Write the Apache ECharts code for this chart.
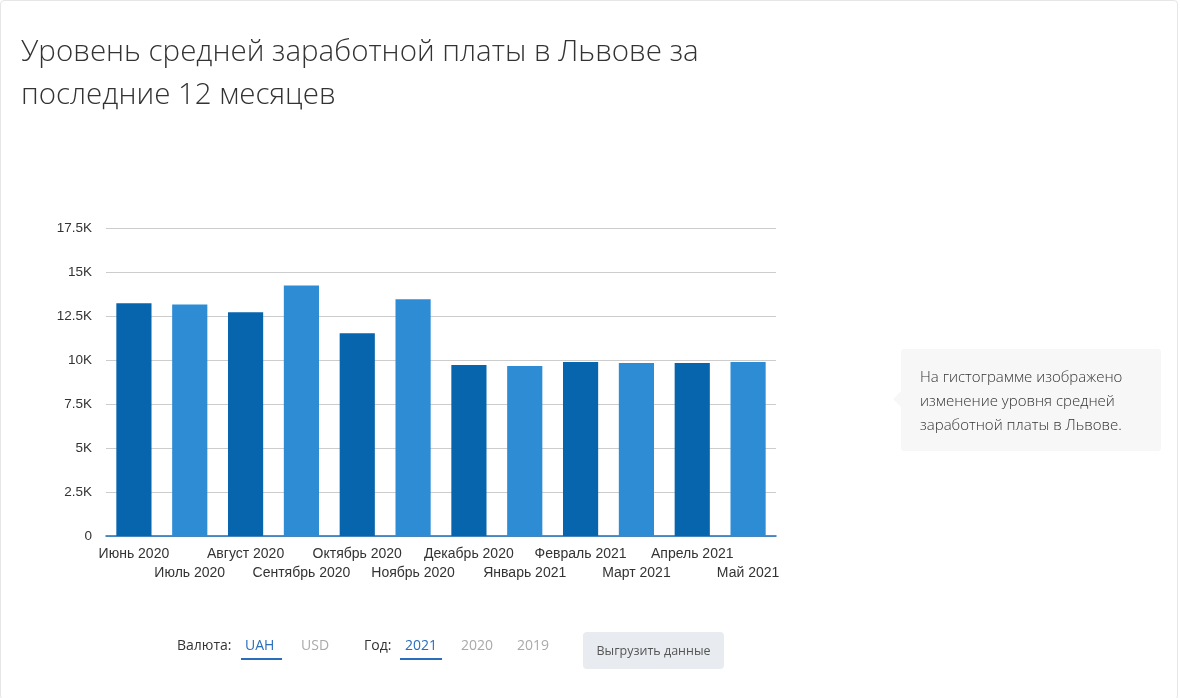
<!DOCTYPE html>
<html>
<head>
<meta charset="utf-8">
<script src="https://cdn.jsdelivr.net/npm/echarts@6/dist/echarts.min.js"></script>
<style>
html,body{margin:0;padding:0;background:#fff;}
#frame{position:absolute;left:0;top:0;width:1178px;height:700px;border:1px solid #e6e6e6;border-radius:4px;box-sizing:border-box;}
#chart{position:absolute;left:0;top:0;width:1180px;height:698px;}
</style>
</head>
<body>
<div id="frame"></div>
<div id="chart"></div>
<script>
const titleText = 'Уровень средней заработной платы в Львове за\nпоследние 12 месяцев';
const categories = ['Июнь 2020','Июль 2020','Август 2020','Сентябрь 2020','Октябрь 2020','Ноябрь 2020','Декабрь 2020','Январь 2021','Февраль 2021','Март 2021','Апрель 2021','Май 2021'];
const salaryUAH = [13220, 13160, 12710, 14240, 11520, 13450, 9720, 9660, 9890, 9830, 9830, 9890];
const yTicks = [0, 2500, 5000, 7500, 10000, 12500, 15000, 17500];
const noteLines = ['На гистограмме изображено', 'изменение уровня средней', 'заработной платы в Львове.'];
const currencyOptions = ['UAH', 'USD'];
const yearOptions = ['2021', '2020', '2019'];

const darkBlue = '#0765ad';
const lightBlue = '#2e8cd5';
const uiFont = '"Open Sans", "Noto Sans", sans-serif';

const chart = echarts.init(document.getElementById('chart'));

const graphics = [
  // note box
  { type: 'rect', shape: { x: 901, y: 349, width: 260, height: 102, r: 3 }, style: { fill: '#f7f7f7' } },
  { type: 'polygon', shape: { points: [[901, 391], [893, 399], [901, 407]] }, style: { fill: '#f7f7f7' } },
  { type: 'text', left: 920, top: 366, style: { text: noteLines.join('\n'), fill: '#333', font: '300 15px ' + uiFont, lineHeight: 24 } },
  // controls
  { type: 'text', left: 177, top: 639, style: { text: 'Валюта:', fill: '#333', font: '14px ' + uiFont } },
  { type: 'text', left: 245, top: 639, style: { text: currencyOptions[0], fill: '#2a6ebb', font: '14px ' + uiFont } },
  { type: 'rect', shape: { x: 241, y: 658, width: 41, height: 2 }, style: { fill: '#2a6ebb' } },
  { type: 'text', left: 301, top: 639, style: { text: currencyOptions[1], fill: '#aaa', font: '14px ' + uiFont } },
  { type: 'text', left: 364, top: 639, style: { text: 'Год:', fill: '#333', font: '14px ' + uiFont } },
  { type: 'text', left: 405, top: 639, style: { text: yearOptions[0], fill: '#2a6ebb', font: '14px ' + uiFont } },
  { type: 'rect', shape: { x: 400, y: 658, width: 42, height: 2 }, style: { fill: '#2a6ebb' } },
  { type: 'text', left: 461, top: 639, style: { text: yearOptions[1], fill: '#aaa', font: '14px ' + uiFont } },
  { type: 'text', left: 517, top: 639, style: { text: yearOptions[2], fill: '#aaa', font: '14px ' + uiFont } },
  { type: 'rect', shape: { x: 583, y: 632, width: 141, height: 37, r: 4 }, style: { fill: '#e8ecf0' } },
  { type: 'text', x: 653.5, y: 651, style: { text: 'Выгрузить данные', fill: '#555', font: '12.5px ' + uiFont, textAlign: 'center', textVerticalAlign: 'middle' } }
];

chart.setOption({
  animation: false,
  title: {
    text: titleText,
    left: 16,
    top: 26,
    textStyle: { fontFamily: uiFont, fontWeight: 300, fontSize: 29.5, color: '#333', lineHeight: 43 }
  },
  grid: { left: 106, right: 404, top: 228, bottom: 162, containLabel: false },
  xAxis: {
    type: 'category',
    data: categories,
    axisLine: { lineStyle: { color: '#1a6fba', width: 1.5 } },
    axisTick: { show: false },
    axisLabel: {
      interval: 0,
      margin: 9,
      color: '#333',
      fontFamily: 'Liberation Sans, Arial, sans-serif',
      fontSize: 14,
      lineHeight: 19,
      formatter: (v, i) => (i % 2 ? '\n' + v : v)
    }
  },
  yAxis: {
    type: 'value',
    min: yTicks[0],
    max: yTicks[yTicks.length - 1],
    interval: 2500,
    axisLine: { show: false },
    axisTick: { show: false },
    splitLine: { lineStyle: { color: '#cccccc' } },
    axisLabel: {
      color: '#333',
      margin: 14,
      fontFamily: 'Liberation Sans, Arial, sans-serif',
      fontSize: 13.5,
      formatter: v => (v === 0 ? '0' : (v / 1000) + 'K')
    }
  },
  series: [{
    type: 'bar',
    data: salaryUAH,
    barWidth: '63%',
    itemStyle: { color: p => (p.dataIndex % 2 ? lightBlue : darkBlue) }
  }],
  graphic: graphics
});
</script>
</body>
</html>
